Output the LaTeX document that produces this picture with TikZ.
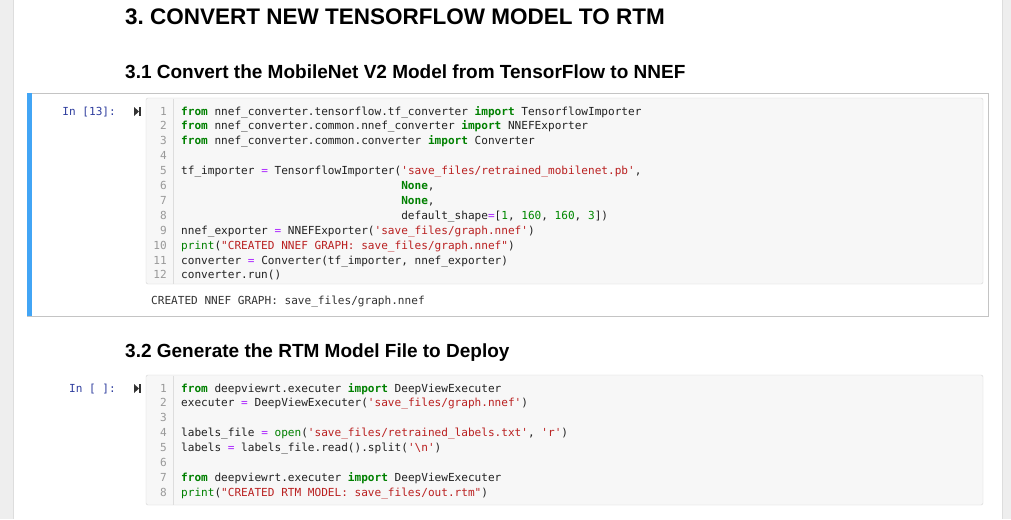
\documentclass[tikz,border=0pt]{standalone}
\usepackage{fontspec}
\setmainfont{Liberation Sans}
\setmonofont{DejaVu Sans Mono}
\usepackage{tikz}
\frenchspacing
\definecolor{page-gray}{HTML}{EEEEEE}
\definecolor{page-edge}{HTML}{DDDDDD}
\definecolor{cell-border}{HTML}{C4C4C4}
\definecolor{code-border}{HTML}{D6D6D6}
\definecolor{code-bg}{HTML}{F7F7F7}
\definecolor{gutter-line}{HTML}{DDDDDD}
\definecolor{sel-blue}{HTML}{42A5F5}
\definecolor{prompt-blue}{HTML}{303F9F}
\definecolor{code-black}{HTML}{222222}
\definecolor{out-gray}{HTML}{333333}
\definecolor{kw-green}{HTML}{008000}
\definecolor{str-red}{HTML}{BA2121}
\definecolor{op-purple}{HTML}{AA22FF}
\definecolor{num-green}{HTML}{008800}
\definecolor{lineno-gray}{HTML}{999999}

\newcommand{\pykw}[1]{\textcolor{kw-green}{\textbf{#1}}}
\newcommand{\pybi}[1]{\textcolor{kw-green}{#1}}
\newcommand{\pystr}[1]{\textcolor{str-red}{#1}}
\newcommand{\pyop}[1]{\textcolor{op-purple}{#1}}
\newcommand{\pynum}[1]{\textcolor{num-green}{#1}}

\tikzset{
	heading/.style={anchor=base west, inner sep=0pt, font=\bfseries\fontsize{19}{22}\selectfont},
	code/.style={anchor=base west, inner sep=0pt, text=code-black, font=\ttfamily\fontsize{11.08}{14.9}\selectfont},
	lineno/.style={anchor=base east, inner sep=0pt, text=lineno-gray, font=\ttfamily\fontsize{11.08}{14.9}\selectfont},
	prompt/.style={anchor=base east, inner sep=0pt, text=prompt-blue, font=\ttfamily\fontsize{11.08}{14.9}\selectfont},
	codebox/.style={draw=code-border, fill=code-bg, rounded corners=2pt},
	runicon/.style={fill=out-gray, draw=none}
}

\begin{document}
\begin{tikzpicture}[x=1pt,y=-1pt]

		%--- PAGE -------------------------------

		\useasboundingbox (0,0) rectangle (1011,519);
		\fill [page-gray] (0,0) rectangle (1011,519);
		\fill [white] (13,0) rectangle (1002,519);
		\draw [page-edge] (13,0) -- (13,519);
		\draw [page-edge] (1002,0) -- (1002,519);

		%--- HEADINGS ---------------------------

		\node [heading, font=\bfseries\fontsize{22.5}{26}\selectfont] (H1) at (125,25) {3. CONVERT NEW TENSORFLOW MODEL TO RTM};
		\node [heading] (H2) at (125,78) {3.1 Convert the MobileNet V2 Model from TensorFlow to NNEF};
		\node [heading] (H3) at (125,357) {3.2 Generate the RTM Model File to Deploy};

		%--- FIRST CELL -------------------------

		% Selected cell frame and blue bar
		\draw [cell-border] (27,93) rectangle (988,316);
		\fill [sel-blue] (27,93) rectangle (31.5,316);

		% Prompt and run icon
		\node [prompt] (IN1) at (116,115) {In [13]:};
		\fill [runicon] (134,107) -- (139,111.5) -- (134,116) -- cycle;
		\fill [runicon] (139,107) rectangle (140.6,116);

		% Code box and gutter
		\draw [codebox] (146,98) rectangle (983,284);
		\draw [gutter-line] (173,98.5) -- (173,283.5);
		\foreach \i in {1,...,12}{
			\node [lineno] (N1-\i) at (167,{115+(\i-1)*14.9}) {\i};
		}

		% Code lines
		\node [code] (A1) at (181,115) {\pykw{from} nnef\_converter.tensorflow.tf\_converter \pykw{import} TensorflowImporter};
		\node [code] (A2) at (181,129.9) {\pykw{from} nnef\_converter.common.nnef\_converter \pykw{import} NNEFExporter};
		\node [code] (A3) at (181,144.8) {\pykw{from} nnef\_converter.common.converter \pykw{import} Converter};
		\node [code] (A5) at (181,174.6) {tf\_importer \pyop{=} TensorflowImporter(\pystr{'save\_files/retrained\_mobilenet.pb'},};
		\node [code] (A6) at (401.1,189.5) {\pykw{None},};
		\node [code] (A7) at (401.1,204.4) {\pykw{None},};
		\node [code] (A8) at (401.1,219.3) {default\_shape\pyop{=}[\pynum{1}, \pynum{160}, \pynum{160}, \pynum{3}])};
		\node [code] (A9) at (181,234.2) {nnef\_exporter \pyop{=} NNEFExporter(\pystr{'save\_files/graph.nnef'})};
		\node [code] (A10) at (181,249.1) {\pybi{print}(\pystr{"CREATED NNEF GRAPH: save\_files/graph.nnef"})};
		\node [code] (A11) at (181,264) {converter \pyop{=} Converter(tf\_importer, nnef\_exporter)};
		\node [code] (A12) at (181,278.9) {converter.run()};

		% Output
		\node [code, text=out-gray] (OUT1) at (151,304) {CREATED NNEF GRAPH: save\_files/graph.nnef};

		%--- SECOND CELL ------------------------

		% Prompt and run icon
		\node [prompt] (IN2) at (116,392) {In [ ]:};
		\fill [runicon] (134,384) -- (139,388.5) -- (134,393) -- cycle;
		\fill [runicon] (139,384) rectangle (140.6,393);

		% Code box and gutter
		\draw [codebox] (146,375) rectangle (983,505);
		\draw [gutter-line] (173,375.5) -- (173,504.5);
		\foreach \i in {1,...,8}{
			\node [lineno] (N2-\i) at (167,{392+(\i-1)*14.9}) {\i};
		}

		% Code lines
		\node [code] (B1) at (181,392) {\pykw{from} deepviewrt.executer \pykw{import} DeepViewExecuter};
		\node [code] (B2) at (181,406.9) {executer \pyop{=} DeepViewExecuter(\pystr{'save\_files/graph.nnef'})};
		\node [code] (B4) at (181,436.7) {labels\_file \pyop{=} \pybi{open}(\pystr{'save\_files/retrained\_labels.txt'}, \pystr{'r'})};
		\node [code] (B5) at (181,451.6) {labels \pyop{=} labels\_file.read().split(\pystr{'\textbackslash n'})};
		\node [code] (B7) at (181,481.4) {\pykw{from} deepviewrt.executer \pykw{import} DeepViewExecuter};
		\node [code] (B8) at (181,496.3) {\pybi{print}(\pystr{"CREATED RTM MODEL: save\_files/out.rtm"})};

\end{tikzpicture}
\end{document}
